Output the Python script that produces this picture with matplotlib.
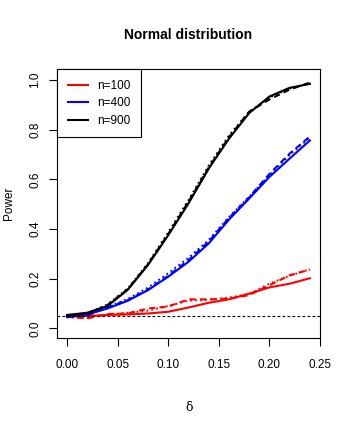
import matplotlib.pyplot as plt

# power curves
delta = [0.00, 0.02, 0.04, 0.06, 0.08, 0.10, 0.12, 0.14, 0.16, 0.18, 0.20, 0.22, 0.24]

red_solid = [0.047, 0.050, 0.054, 0.056, 0.060, 0.067, 0.084, 0.103, 0.117, 0.140, 0.165, 0.180, 0.202]
red_dash = [0.047, 0.040, 0.058, 0.060, 0.080, 0.088, 0.117, 0.117, 0.120, 0.134, 0.174, 0.214, 0.237]
red_dot = [0.045, 0.042, 0.056, 0.062, 0.072, 0.090, 0.112, 0.115, 0.124, 0.138, 0.180, 0.212, 0.238]

blue_solid = [0.047, 0.056, 0.080, 0.111, 0.154, 0.208, 0.268, 0.342, 0.438, 0.523, 0.610, 0.684, 0.757]
blue_dash = [0.047, 0.052, 0.084, 0.114, 0.156, 0.212, 0.275, 0.350, 0.445, 0.528, 0.622, 0.704, 0.773]
blue_dot = [0.045, 0.054, 0.086, 0.118, 0.164, 0.222, 0.284, 0.356, 0.448, 0.530, 0.616, 0.700, 0.768]

black_solid = [0.054, 0.063, 0.090, 0.155, 0.255, 0.375, 0.503, 0.643, 0.764, 0.867, 0.934, 0.969, 0.985]
black_dash = [0.052, 0.058, 0.094, 0.158, 0.258, 0.380, 0.510, 0.648, 0.770, 0.873, 0.922, 0.962, 0.990]
black_dot = [0.050, 0.060, 0.096, 0.160, 0.262, 0.386, 0.516, 0.655, 0.776, 0.872, 0.930, 0.966, 0.986]

legend_labels = ['n=100', 'n=400', 'n=900']
colors = ['#ff0000', '#0000ff', '#000000']
alpha_level = 0.05

plt.rcParams['font.family'] = ['Liberation Sans', 'DejaVu Sans']

fig = plt.figure(figsize=(3.49, 4.26), dpi=100)
ax = fig.add_axes([0.164, 0.207, 0.753, 0.630])

series = [(red_solid, red_dash, red_dot), (blue_solid, blue_dash, blue_dot),
          (black_solid, black_dash, black_dot)]
handles = []
for (s, d, o), c, lab in zip(series, colors, legend_labels):
    h, = ax.plot(delta, s, color=c, lw=1.5, ls='-', label=lab)
    ax.plot(delta, d, color=c, lw=1.5, ls=(0, (3, 2)))
    ax.plot(delta, o, color=c, lw=1.5, ls=(0, (0.8, 1.6)))
    handles.append(h)

ax.axhline(alpha_level, color='black', lw=0.8, ls=(0, (2.5, 2)))

ax.set_xlim(-0.0096, 0.2496)
ax.set_ylim(-0.038, 1.043)
ax.set_xticks([0.00, 0.05, 0.10, 0.15, 0.20, 0.25])
ax.set_xticklabels(['0.00', '0.05', '0.10', '0.15', '0.20', '0.25'])
ax.set_yticks([0.0, 0.2, 0.4, 0.6, 0.8, 1.0])
ax.set_yticklabels(['0.0', '0.2', '0.4', '0.6', '0.8', '1.0'], rotation=90, va='center')
ax.tick_params(direction='out', length=6, width=0.8, labelsize=8.5)
ax.tick_params(axis='x', pad=9)
ax.tick_params(axis='y', pad=5.5)
for sp in ax.spines.values():
    sp.set_linewidth(0.8)

ax.set_xlabel('δ', fontsize=9, family=['DejaVu Serif'], labelpad=22)
ax.set_ylabel('Power', fontsize=8.5, labelpad=10)
fig.text(0.54, 1 - 35 / 426, 'Normal distribution', ha='center', va='center',
         fontsize=10, fontweight='bold', family=['Liberation Sans Narrow', 'Liberation Sans'])

leg = ax.legend(handles=handles, loc='upper left', borderaxespad=0, fancybox=False,
                edgecolor='black', framealpha=1, fontsize=8.5, handlelength=1.7,
                handletextpad=0.8, labelspacing=0.45, borderpad=0.9)
leg.get_frame().set_linewidth(0.8)

fig.savefig('out.png', dpi=100)
